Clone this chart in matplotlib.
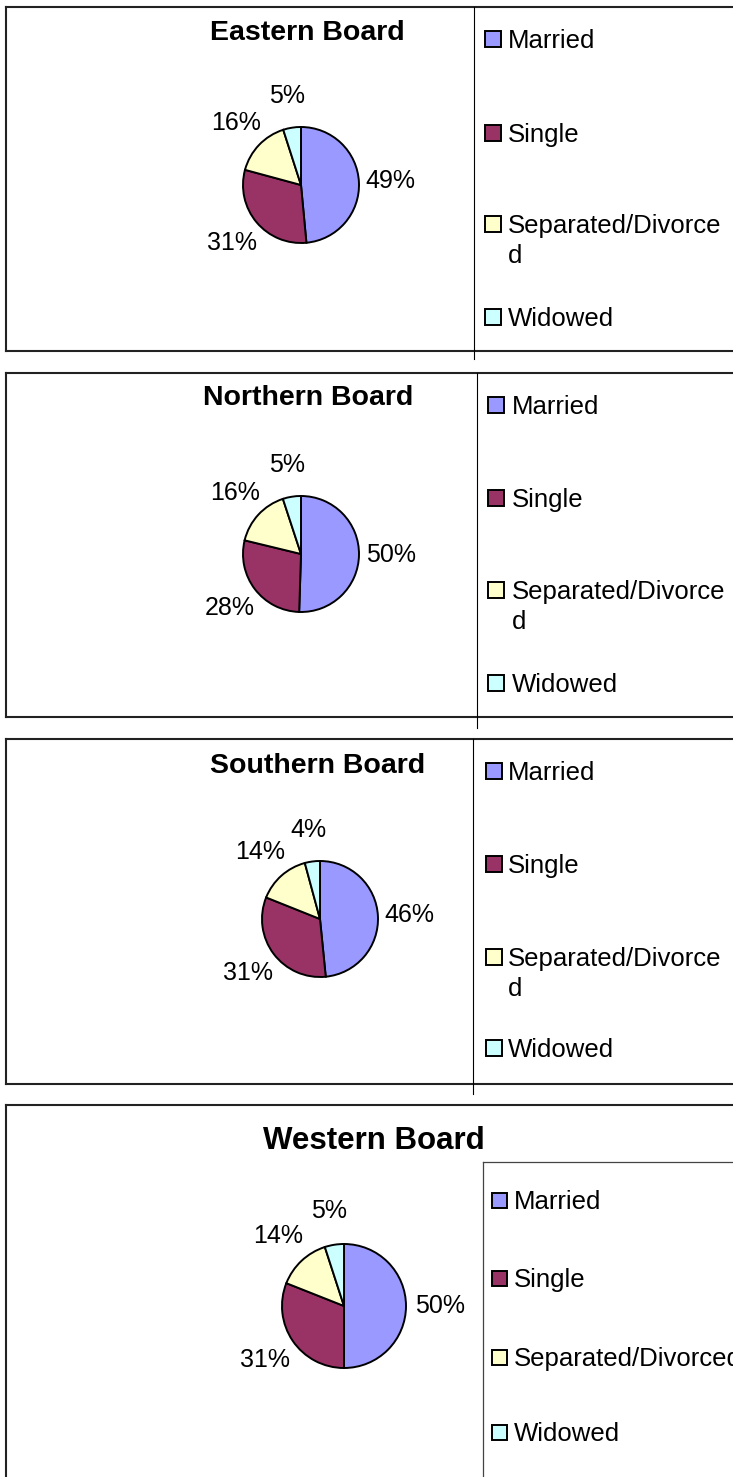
import matplotlib.pyplot as plt
from matplotlib.lines import Line2D
from matplotlib.patches import Rectangle

plt.rcParams['font.family'] = ['Liberation Sans', 'DejaVu Sans']

W, H = 733, 1477

categories = ['Married', 'Single', 'Separated/Divorced', 'Widowed']
colors = ['#9999FF', '#993366', '#FFFFCC', '#CCFFFF']

boards = ['Eastern Board', 'Northern Board', 'Southern Board', 'Western Board']
eastern = [49, 31, 16, 5]
northern = [50, 28, 16, 5]
southern = [46, 31, 14, 4]
western = [50, 31, 14, 5]
all_values = [eastern, northern, southern, western]

# layout in pixels (from top-left)
panel_top = [7, 373, 739, 1105]
panel_bottom = [351, 717, 1084, None]
legend_x = [474, 477, 473, 483]
legend_line_end = [359, 728, 1094, None]
pie_center = [(301, 185), (301, 554), (320, 919), (344, 1306)]
pie_r = [58, 58, 58, 62]
title_pos = [(307, 33), (308, 398), (318, 766), (374, 1141)]
title_size = [20.5, 20.5, 20.5, 22.5]
legend_rows = [[39, 133, 224, 317], [405, 498, 590, 683],
               [771, 864, 957, 1048], [1200, 1278, 1357, 1432]]
square_x = [485, 488, 486, 492]
text_x = [508, 512, 508, 514]


def fx(x):
    return x / W


def fy(y):
    return 1 - y / H


fig = plt.figure(figsize=(W / 100, H / 100), dpi=100)

border = '#222222'
for i in range(4):
    top = panel_top[i]
    bot = panel_bottom[i] if panel_bottom[i] is not None else H + 5
    # outer frame (runs off the right edge)
    fig.add_artist(Line2D([fx(6), fx(W + 5)], [fy(top), fy(top)], color=border, lw=1.5))
    fig.add_artist(Line2D([fx(6), fx(6)], [fy(top), fy(bot)], color=border, lw=1.5))
    if panel_bottom[i] is not None:
        fig.add_artist(Line2D([fx(6), fx(W + 5)], [fy(bot), fy(bot)], color=border, lw=1.5))
        fig.add_artist(Line2D([fx(legend_x[i]), fx(legend_x[i])],
                              [fy(top), fy(legend_line_end[i])], color='black', lw=0.8))
    else:
        ltop = 1162
        fig.add_artist(Line2D([fx(legend_x[i]), fx(W + 5)], [fy(ltop), fy(ltop)],
                              color='#444444', lw=0.9))
        fig.add_artist(Line2D([fx(legend_x[i]), fx(legend_x[i])], [fy(ltop), fy(H + 5)],
                              color='#444444', lw=0.9))

    # title
    tx, ty = title_pos[i]
    fig.text(fx(tx), fy(ty), boards[i], ha='center', va='center',
             fontsize=title_size[i], fontweight='bold')

    # pie
    cx, cy = pie_center[i]
    r = pie_r[i]
    lim = 1.05
    ax = fig.add_axes([fx(cx - r * lim), fy(cy + r * lim), 2 * r * lim / W, 2 * r * lim / H])
    vals = all_values[i]
    ax.pie(vals, colors=colors, startangle=90, counterclock=False,
           labels=[f'{v}%' for v in vals], labeldistance=1.55,
           wedgeprops=dict(edgecolor='black', linewidth=1.4),
           textprops=dict(ha='center', va='center', fontsize=18))
    ax.set_xlim(-lim, lim)
    ax.set_ylim(-lim, lim)

    # legend
    for j, cat in enumerate(categories):
        y = legend_rows[i][j]
        sq = 16 if i < 3 else 15
        fig.add_artist(Rectangle((fx(square_x[i]), fy(y + sq / 2)), sq / W, sq / H,
                                 facecolor=colors[j], edgecolor='black', lw=1.4))
        label = cat
        shift = 0
        if i < 3 and cat == 'Separated/Divorced':
            label = cat[:-1] + '\n' + cat[-1]
            shift = 30
        fig.text(fx(text_x[i]), fy(y + 9 + shift), label, ha='left', va='baseline',
                 fontsize=18.5, linespacing=1.3)

fig.savefig('out.png', dpi=100)
